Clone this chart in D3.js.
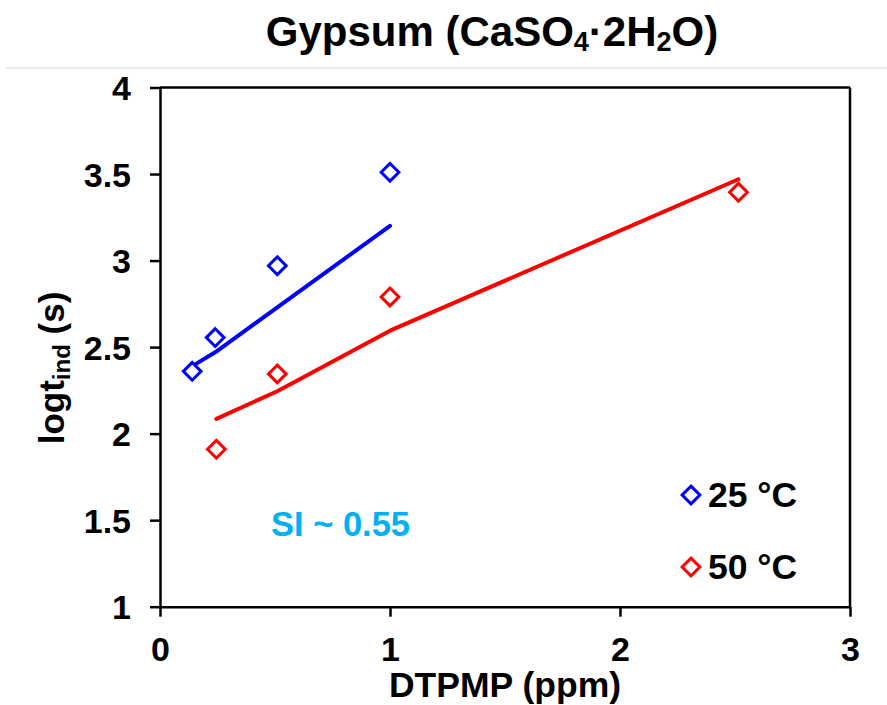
<!DOCTYPE html>
<html>
<head>
<meta charset="utf-8">
<script src="https://cdn.jsdelivr.net/npm/d3@7"></script>
<style>
  body { margin: 0; background: #fff; }
  text { font-family: "Liberation Sans", Arial, sans-serif; font-weight: bold; }
</style>
</head>
<body>
<div id="chart"></div>
<script>
// data
var blueX = [0.14, 0.24, 0.51, 1.0];
var blueY = [2.36, 2.555, 2.97, 3.51];
var blueFit = [2.39, 2.47, 2.73, 3.2];

var redX = [0.245, 0.51, 1.0, 2.515];
var redY = [1.91, 2.345, 2.79, 3.395];
var redFit = [2.085, 2.245, 2.595, 3.47];

var xTicks = [0, 1, 2, 3];
var yTicks = [1, 1.5, 2, 2.5, 3, 3.5, 4];
var seriesNames = ["25 °C", "50 °C"];
var seriesColors = ["#0000ff", "#ff0000"];

var W = 887, H = 705;
var margin = { top: 87.5, right: 37, bottom: 98.3, left: 160 };
var width = W - margin.left - margin.right,
  height = H - margin.top - margin.bottom;

var svg = d3.select("#chart").append("svg")
  .attr("width", W).attr("height", H);

// title
var title = svg.append("text")
  .attr("x", 492).attr("y", 46)
  .attr("text-anchor", "middle")
  .style("font-size", "42px");
title.append("tspan").text("Gypsum (CaSO");
title.append("tspan").attr("dy", 5).style("font-size", "27px").text("4");
title.append("tspan").attr("dy", -5).text("·2H");
title.append("tspan").attr("dy", 5).style("font-size", "27px").text("2");
title.append("tspan").attr("dy", -5).text("O)");

// thin separator under the title
svg.append("line")
  .attr("x1", 6).attr("x2", W).attr("y1", 68).attr("y2", 68)
  .attr("stroke", "#e3e3e3").attr("stroke-width", 1.5);

var g = svg.append("g")
  .attr("transform", "translate(" + margin.left + "," + margin.top + ")");

var x = d3.scaleLinear().domain([0, 3]).range([0, width]);
var y = d3.scaleLinear().domain([1, 4]).range([height, 0]);

// axes
var xAxis = d3.axisBottom(x).tickValues(xTicks).tickSize(10).tickSizeOuter(0)
  .tickFormat(d3.format("d"));
var yAxis = d3.axisLeft(y).tickValues(yTicks).tickSize(10).tickSizeOuter(0)
  .tickFormat(function (d) { return d; });

var gx = g.append("g")
  .attr("transform", "translate(0," + height + ")")
  .call(xAxis);
var gy = g.append("g").call(yAxis);

[gx, gy].forEach(function (a) {
  a.select(".domain").attr("stroke", "#000").attr("stroke-width", 2.5);
  a.selectAll(".tick line").attr("stroke", "#000").attr("stroke-width", 2.5);
  a.selectAll(".tick text")
    .attr("fill", "#000")
    .style("font-size", "34px")
    .style("font-family", "'Liberation Sans', Arial, sans-serif");
});
gx.selectAll(".tick text").attr("y", 0).attr("dy", 0)
  .attr("transform", "translate(0,54)");
gy.selectAll(".tick text").attr("x", -29).attr("dy", "0.36em");

// box top + right
g.append("line").attr("x1", 0).attr("x2", width).attr("y1", 0).attr("y2", 0)
  .attr("stroke", "#000").attr("stroke-width", 2.5);
g.append("line").attr("x1", width).attr("x2", width).attr("y1", 0).attr("y2", height)
  .attr("stroke", "#000").attr("stroke-width", 2.5);

// axis labels
svg.append("text")
  .attr("x", 505).attr("y", 697)
  .attr("text-anchor", "middle")
  .style("font-size", "35.5px")
  .text("DTPMP (ppm)");

var ylab = svg.append("text")
  .attr("transform", "translate(64,368) rotate(-90)")
  .attr("text-anchor", "middle")
  .style("font-size", "35px");
ylab.append("tspan").text("logt");
ylab.append("tspan").attr("dy", 6).style("font-size", "24px").text("ind");
ylab.append("tspan").attr("dy", -6).text(" (s)");

// fit lines
var line = d3.line()
  .x(function (d) { return x(d[0]); })
  .y(function (d) { return y(d[1]); });

var series = [
  { xs: blueX, ys: blueY, fit: blueFit, color: seriesColors[0] },
  { xs: redX, ys: redY, fit: redFit, color: seriesColors[1] }
];

series.forEach(function (s) {
  g.append("path")
    .datum(d3.zip(s.xs, s.fit))
    .attr("fill", "none")
    .attr("stroke", s.color)
    .attr("stroke-width", 4)
    .attr("stroke-linecap", "round")
    .attr("stroke-linejoin", "round")
    .attr("d", line);
});

var diamond = d3.symbol().type(d3.symbolDiamond2).size(200);

series.forEach(function (s) {
  g.selectAll(null)
    .data(d3.zip(s.xs, s.ys))
    .join("path")
    .attr("d", diamond)
    .attr("transform", function (d) {
      return "translate(" + x(d[0]) + "," + y(d[1]) + ")";
    })
    .attr("fill", "#fff")
    .attr("stroke", s.color)
    .attr("stroke-width", 3);
});

// legend
var legend = svg.append("g");
seriesNames.forEach(function (name, i) {
  var ly = 495 + i * 72;
  legend.append("path")
    .attr("d", diamond)
    .attr("transform", "translate(691," + ly + ")")
    .attr("fill", "#fff")
    .attr("stroke", seriesColors[i])
    .attr("stroke-width", 3);
  legend.append("text")
    .attr("x", 708).attr("y", ly + 12)
    .style("font-size", "35.5px")
    .attr("fill", "#000")
    .text(name);
});

// annotation
svg.append("text")
  .attr("x", 271).attr("y", 536)
  .style("font-size", "34.5px")
  .attr("fill", "#00b0f0")
  .text("SI ~ 0.55");
</script>
</body>
</html>
